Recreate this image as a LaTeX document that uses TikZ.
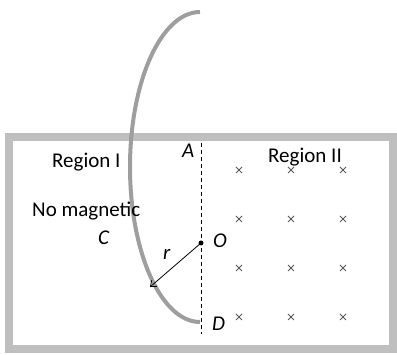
\documentclass[tikz,border=0pt]{standalone}
\usepackage{fontspec}
\setmainfont{Carlito}
\usetikzlibrary{arrows.meta}
\definecolor{framegray}{gray}{0.75}
\definecolor{curvegray}{gray}{0.62}
\definecolor{crossgray}{gray}{0.35}
\tikzset{
  lbl/.style={anchor=base west, inner sep=0pt, font=\fontsize{21}{25}\selectfont},
  ilbl/.style={lbl, font=\fontsize{21}{25}\selectfont\itshape},
  crossmark/.style={crossgray, line width=0.8pt},
}
\begin{document}
\begin{tikzpicture}[x=1pt,y=-1pt]
\useasboundingbox (0,0) rectangle (397,355);
% frame
\draw[framegray, line width=8pt] (9,137) rectangle (393,349);
% dashed line
\coordinate (top) at (201,143);
\coordinate (bot) at (201,334);
\draw[dashed, dash pattern=on 4.3pt off 2.7pt, line width=0.9pt] (top) -- (bot);
% curve
\draw[curvegray, line width=4pt] (200,12) arc[start angle=270, end angle=90, x radius=70, y radius=155];
% crosses
\foreach \x in {239,291,343}{
  \foreach \y in {170,219,268,317}{
    \draw[crossmark] (\x-3,\y-3) -- (\x+3,\y+3) (\x-3,\y+3) -- (\x+3,\y-3);
  }
}
% O and radius
\node[circle, fill=black, inner sep=0pt, minimum size=5pt] (O) at (201,243) {};
\coordinate (tip) at (150,287);
\draw[-{Straight Barb[length=5pt,width=8pt]}, line width=0.8pt] (O.center) -- (tip);
% labels
\node[lbl] (r1) at (52,168) {Region I};
\node[lbl] (r2) at (268,163) {Region II};
\node[lbl] (nm) at (32,217) {No magnetic};
\node[ilbl] (C) at (98,245) {C};
\node[ilbl] (A) at (182,158) {A};
\node[ilbl] (r) at (163,260) {r};
\node[ilbl] (Ol) at (213,248) {O};
\node[ilbl] (D) at (212,331) {D};
\end{tikzpicture}
\end{document}
